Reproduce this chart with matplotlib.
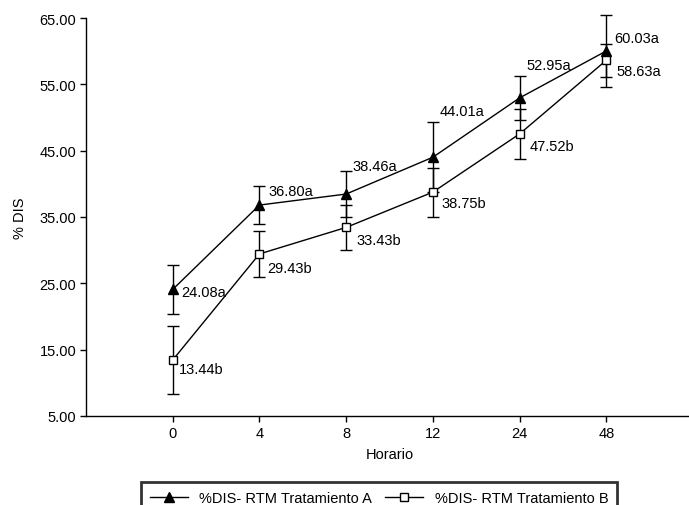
import matplotlib
matplotlib.use("Agg")
import matplotlib.pyplot as plt
from matplotlib.lines import Line2D

plt.rcParams["font.family"] = ["Liberation Sans", "DejaVu Sans"]

horario = ["0", "4", "8", "12", "24", "48"]
dis_a = [24.08, 36.80, 38.46, 44.01, 52.95, 60.03]
dis_b = [13.44, 29.43, 33.43, 38.75, 47.52, 58.63]
err_a = [3.7, 2.9, 3.4, 5.3, 3.35, 5.4]
err_b = [5.1, 3.5, 3.4, 3.7, 3.75, 2.5]
lab_a = ["24.08a", "36.80a", "38.46a", "44.01a", "52.95a", "60.03a"]
lab_b = ["13.44b", "29.43b", "33.43b", "38.75b", "47.52b", "58.63a"]

# label offsets in pixels (dx, dy) from each point
off_a = [(9, -3), (9, 14), (6, 28), (7, 46), (7, 33), (8, 13)]
off_b = [(6, -9), (8, -14), (10, -13), (9, -11), (10, -12), (10, -11)]

fig = plt.figure(figsize=(6.89, 5.06), dpi=100)
ax = fig.add_axes([86 / 689, 89 / 506, 607 / 689, 398 / 506])

x = list(range(len(horario)))

for ys, es in [(dis_a, err_a), (dis_b, err_b)]:
    eb = ax.errorbar(x, ys, yerr=es, fmt="none", ecolor="black", elinewidth=1,
                     capsize=4, capthick=1, zorder=2)
    for art in eb.lines[1] + eb.lines[2]:
        art.set_clip_on(False)

ax.plot(x, dis_a, color="black", lw=1, marker="^", ms=7, mfc="black",
        mec="black", zorder=3, clip_on=False)
ax.plot(x, dis_b, color="black", lw=1, marker="s", ms=6, mfc="white",
        mec="black", mew=1, zorder=3, clip_on=False)

for i in x:
    ax.annotate(lab_a[i], (i, dis_a[i]), xytext=off_a[i], textcoords="offset pixels",
                ha="left", va="center", fontsize=10.5)
    ax.annotate(lab_b[i], (i, dis_b[i]), xytext=off_b[i], textcoords="offset pixels",
                ha="left", va="center", fontsize=10.5)

ax.set_xlim(-1, 6)
ax.set_ylim(5, 65)
ax.set_xticks(x)
ax.set_xticklabels(horario)
ax.set_yticks(range(5, 66, 10))
ax.set_yticklabels([f"{v:.2f}" for v in range(5, 66, 10)])
ax.tick_params(labelsize=10.5, direction="out", length=4, width=1, pad=3)
ax.spines["top"].set_visible(False)
ax.spines["right"].set_visible(False)
ax.spines["left"].set_linewidth(1)
ax.spines["bottom"].set_linewidth(1)
ax.set_xlabel("Horario", fontsize=10.5, labelpad=5)
ax.set_ylabel("% DIS", fontsize=10.5, labelpad=9)

handles = [
    Line2D([], [], color="black", lw=1, marker="^", ms=7, mfc="black", mec="black"),
    Line2D([], [], color="black", lw=1, marker="s", ms=6, mfc="white", mec="black"),
]
leg = fig.legend(handles, ["%DIS- RTM Tratamiento A", "%DIS- RTM Tratamiento B"],
                 loc="upper left", bbox_to_anchor=(141 / 689, 23 / 506), ncol=2,
                 fontsize=10.5, frameon=True, fancybox=False, handlelength=2.6,
                 borderaxespad=0, columnspacing=0.9, handletextpad=0.8,
                 borderpad=0.6)
leg.get_frame().set_edgecolor("black")
leg.get_frame().set_linewidth(2)

fig.savefig("out.png", dpi=100)
